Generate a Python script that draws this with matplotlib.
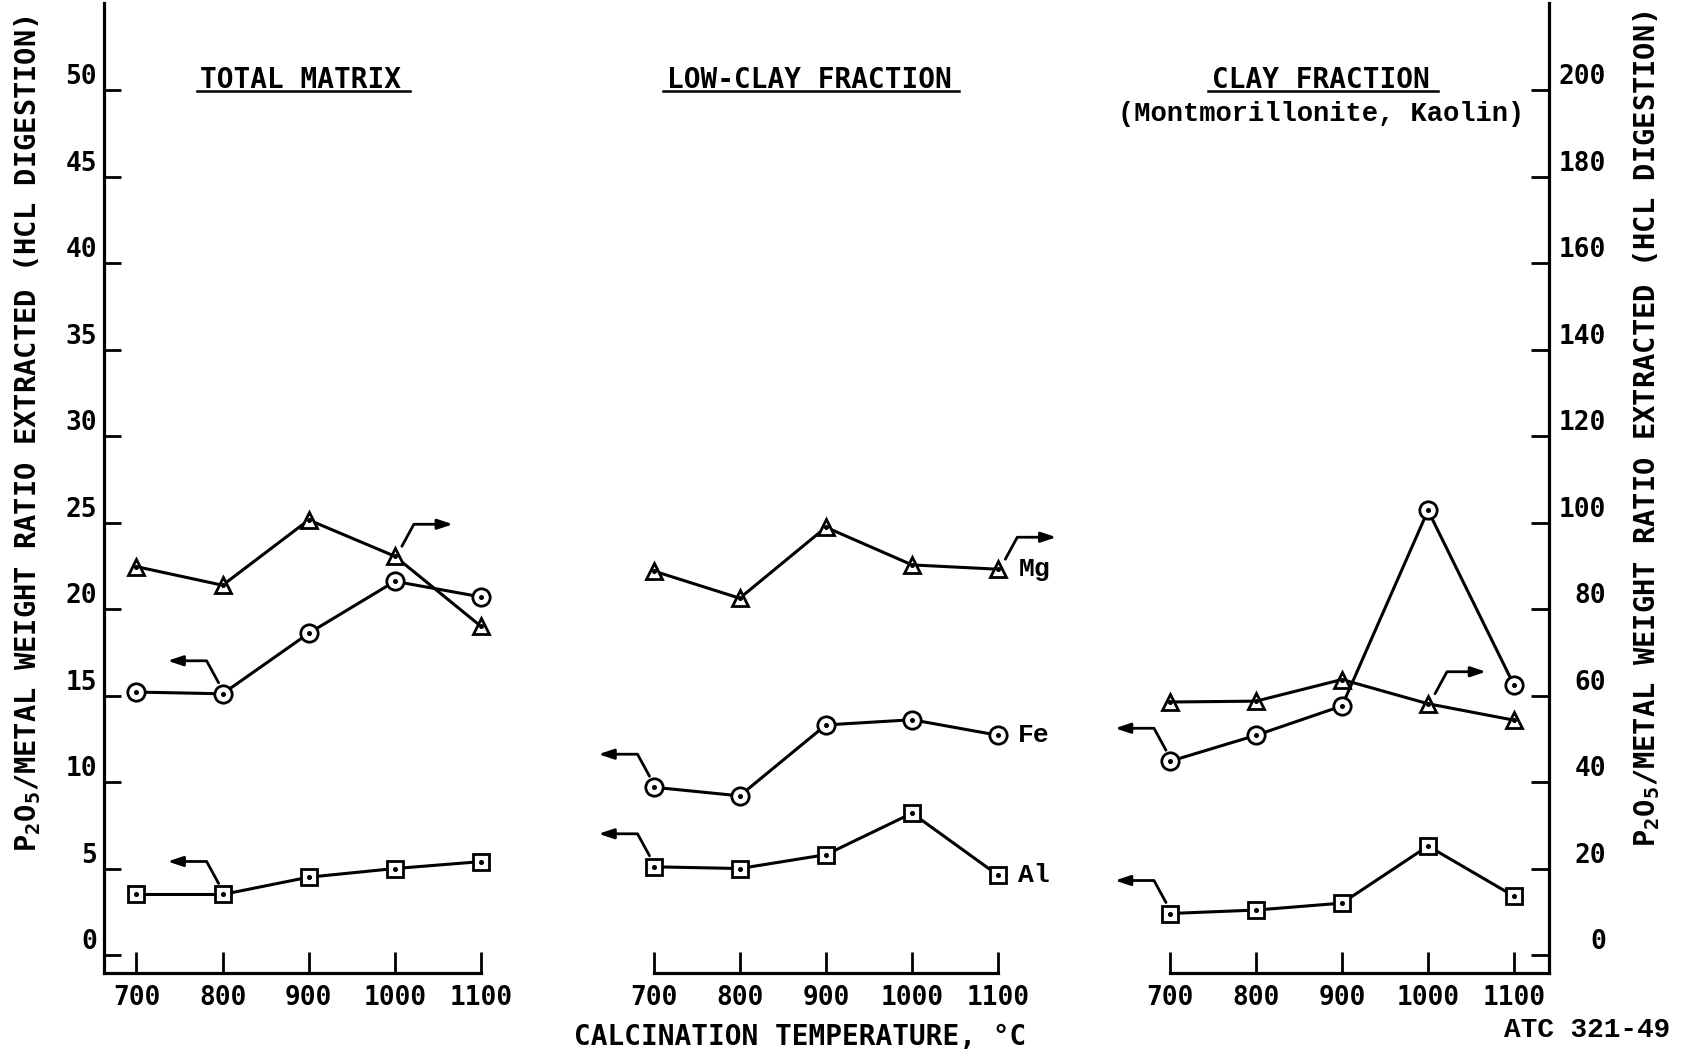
import matplotlib
matplotlib.use("Agg")
import matplotlib.pyplot as plt
from matplotlib.lines import Line2D
from matplotlib.transforms import offset_copy

# ---- data -------------------------------------------------------------
temps = [700, 800, 900, 1000, 1100]
temp_labels = ["700", "800", "900", "1000", "1100"]
panel_titles = ["TOTAL MATRIX", "LOW-CLAY FRACTION", "CLAY FRACTION"]
clay_subtitle = "(Montmorillonite, Kaolin)"
series_names = ["Mg", "Fe", "Al"]

# Mg is read on the right-hand scale, Fe and Al on the left-hand scale
mg_total = [89.8, 85.5, 100.6, 92.2, 76.0]
fe_total = [15.2, 15.1, 18.6, 21.6, 20.7]
al_total = [3.5, 3.5, 4.5, 5.0, 5.4]

mg_lowclay = [88.8, 82.5, 98.9, 90.2, 89.2]
fe_lowclay = [9.7, 9.2, 13.3, 13.6, 12.7]
al_lowclay = [5.1, 5.0, 5.8, 8.2, 4.6]

mg_clay = [58.5, 58.7, 63.7, 58.1, 54.3]
fe_clay = [11.2, 12.7, 14.4, 25.7, 15.6]
al_clay = [2.4, 2.6, 3.0, 6.3, 3.4]

left_ticks = list(range(0, 51, 5))
right_ticks = list(range(0, 201, 20))

ylabel = "P$_{2}$O$_{5}$/METAL WEIGHT RATIO EXTRACTED (HCL DIGESTION)"
xlabel = "CALCINATION TEMPERATURE, °C"
figure_id = "ATC 321-49"

# ---- style ------------------------------------------------------------
plt.rcParams["font.family"] = ["DejaVu Sans Mono", "DejaVu Sans"]
plt.rcParams["font.weight"] = "bold"
plt.rcParams["mathtext.fontset"] = "custom"
plt.rcParams["mathtext.rm"] = "DejaVu Sans Mono:bold"
plt.rcParams["mathtext.it"] = "DejaVu Sans Mono:bold"
plt.rcParams["mathtext.bf"] = "DejaVu Sans Mono:bold"

W, H = 1693, 1052
fig = plt.figure(figsize=(W / 100, H / 100), dpi=100)

Y_BOTTOM_PX, Y_TOP_PX = 972.5, 3.0
ylim = (-1.01, 55.03)
TYPE_FONT = ["Liberation Mono", "DejaVu Sans Mono"]
TICK_SIZE = 18.8


def rect(x0, x1):
    return [x0 / W, 1 - Y_BOTTOM_PX / H, (x1 - x0) / W, (Y_BOTTOM_PX - Y_TOP_PX) / H]


panel_boxes = [(104.0, 481.0, (662.3, 1100)),
               (653.5, 998.3, (700, 1100)),
               (1170.0, 1549.0, (700, 1140.7))]
panel_data = [(mg_total, fe_total, al_total),
              (mg_lowclay, fe_lowclay, al_lowclay),
              (mg_clay, fe_clay, al_clay)]
# (index of anchor point, pointing side) for the Mg, Fe and Al scale arrows
arrow_anchors = [[(3, "right"), (1, "left"), (1, "left")],
                 [(4, "right"), (0, "left"), (0, "left")],
                 [(3, "right"), (0, "left"), (0, "left")]]


def draw_series(axis, y, marker, ms):
    axis.plot(temps, y, color="black", lw=2.2, marker=marker, ms=ms,
              mfc="white", mec="black", mew=2.0, clip_on=False, zorder=3)
    axis.plot(temps, y, ls="none", marker="o", ms=2.6, color="black",
              clip_on=False, zorder=4)


def scale_arrow(axis, x, y, side):
    if side == "left":
        start, tip, ang = (-4, 11), (-55, 33), 118.6
    else:
        start, tip, ang = (7, 10), (58, 32), 61.4
    axis.annotate(
        "", xy=(x, y),
        xycoords=offset_copy(axis.transData, x=tip[0], y=tip[1], units="dots"),
        xytext=(x, y),
        textcoords=offset_copy(axis.transData, x=start[0], y=start[1], units="dots"),
        arrowprops=dict(arrowstyle="-|>,head_length=0.9,head_width=0.3",
                        connectionstyle=f"angle,angleA={ang},angleB=0,rad=0",
                        lw=2.0, color="black", shrinkA=0, shrinkB=0),
        annotation_clip=False)


for i, ((x0, x1, xl), (mg, fe, al)) in enumerate(zip(panel_boxes, panel_data)):
    ax = fig.add_axes(rect(x0, x1))
    ax.set_xlim(xl)
    ax.set_ylim(ylim)
    ax.patch.set_visible(False)
    tw = ax.twinx()
    tw.set_ylim(4 * ylim[0], 4 * ylim[1])

    for s in ax.spines.values():
        s.set_visible(False)
    for s in tw.spines.values():
        s.set_visible(False)
    ax.spines["bottom"].set_visible(True)
    ax.spines["bottom"].set_linewidth(2.3)

    ax.set_xticks(temps)
    ax.set_xticklabels(temp_labels)
    ax.tick_params(axis="x", direction="in", length=15, width=2.0, pad=9,
                   labelsize=TICK_SIZE)

    if i == 0:
        ax.spines["left"].set_visible(True)
        ax.spines["left"].set_linewidth(2.3)
        ax.set_yticks(left_ticks)
        ax.tick_params(axis="y", direction="in", length=12.5, width=2.0,
                       pad=5, labelsize=TICK_SIZE)
        for t in ax.get_yticklabels():
            t.set_verticalalignment("bottom")
    else:
        ax.set_yticks([])

    if i == 2:
        tw.spines["right"].set_visible(True)
        tw.spines["right"].set_linewidth(2.3)
        tw.set_yticks(right_ticks)
        tw.tick_params(axis="y", direction="in", length=13, width=2.0,
                       pad=41, labelsize=TICK_SIZE)
        for t in tw.get_yticklabels():
            t.set_verticalalignment("bottom")
            t.set_horizontalalignment("right")
    else:
        tw.set_yticks([])

    draw_series(tw, mg, "^", 11.5)
    draw_series(ax, fe, "o", 12.5)
    draw_series(ax, al, "s", 11)

    targets = [tw, ax, ax]
    values = [mg, fe, al]
    for (idx, side), axis, vals in zip(arrow_anchors[i], targets, values):
        scale_arrow(axis, temps[idx], vals[idx], side)

    if i == 1:
        for name, axis, vals in zip(series_names, targets, values):
            axis.annotate(name, xy=(temps[-1], vals[-1]), xytext=(20, 0),
                          textcoords="offset pixels", va="center", ha="left",
                          fontsize=19, family=TYPE_FONT, fontweight="bold",
                          annotation_clip=False)

# ---- titles -----------------------------------------------------------
title_x = [301, 809, 1321]
title_base = 1 - 88 / H
titles = []
for tx, name in zip(title_x, panel_titles):
    titles.append(fig.text(tx / W, title_base, name, ha="center",
                           va="baseline", fontsize=20, fontweight="bold"))
fig.text(1321 / W, 1 - 121 / H, clay_subtitle, ha="center", va="baseline",
         fontsize=19.5, family=TYPE_FONT, fontweight="bold")

fig.canvas.draw()
renderer = fig.canvas.get_renderer()
for t in titles:
    bb = t.get_window_extent(renderer)
    yl = 1 - 91 / H
    fig.add_artist(Line2D([(bb.x0 - 4) / W, (bb.x1 + 8) / W], [yl, yl],
                          transform=fig.transFigure, color="black", lw=1.8))

# ---- axis labels ------------------------------------------------------
fig.text(28 / W, 1 - 434 / H, ylabel, rotation=90, ha="center", va="center",
         fontsize=20.7, fontweight="bold")
fig.text(1647 / W, 1 - 429 / H, ylabel, rotation=90, ha="center", va="center",
         fontsize=20.7, fontweight="bold")
fig.text(800 / W, 1 - 1045 / H, xlabel, ha="center", va="baseline",
         fontsize=20, fontweight="bold")
fig.text(1670 / W, 1 - 1037 / H, figure_id, ha="right", va="baseline",
         fontsize=20, family=TYPE_FONT, fontweight="bold")

fig.savefig("out.png", dpi=100)
